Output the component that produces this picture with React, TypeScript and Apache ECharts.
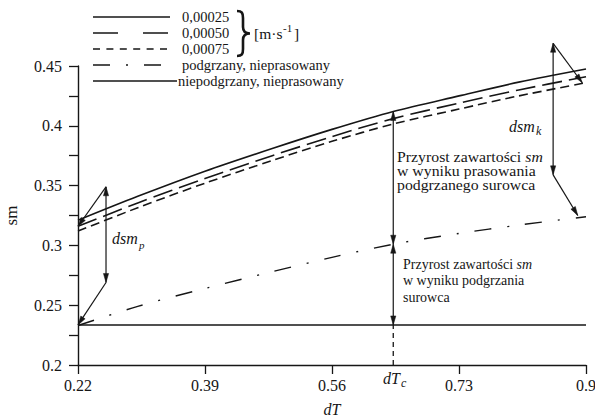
import React, { useEffect, useRef } from "react";
import * as echarts from "echarts";

const SERIF = '"Liberation Serif", "Times New Roman", Times, serif';
const INK = "#161616";

// dT values at which the curves were read
const dT = [0.22, 0.3, 0.39, 0.48, 0.56, 0.642, 0.73, 0.81, 0.9];
// sm for the three pressing speeds [m·s-1]
const sm00025 = [0.321, 0.341, 0.362, 0.381, 0.397, 0.412, 0.425, 0.4365, 0.4475];
const sm00050 = [0.316, 0.3355, 0.356, 0.375, 0.391, 0.406, 0.419, 0.43, 0.441];
const sm00075 = [0.312, 0.3315, 0.352, 0.371, 0.387, 0.4015, 0.414, 0.425, 0.436];
// podgrzany, nieprasowany
const smHeated = [0.233, 0.249, 0.264, 0.278, 0.29, 0.301, 0.31, 0.317, 0.324];
// niepodgrzany, nieprasowany
const unheatedDT = [0.22, 0.9];
const smUnheated = [0.2335, 0.2335];

// axes
const xMin = 0.22;
const xMax = 0.9;
const xStep = 0.17;
const yMin = 0.2;
const yMax = 0.45;
const yStep = 0.025;

// annotation anchors (data units)
const dTc = 0.642;
const dsmPAt = 0.2575;
const dsmPRange = [0.349, 0.269];
const dsmKAt = 0.856;
const dsmKRange = [0.469, 0.359];
const dsmKTopTarget = [0.895, 0.436];
const dsmKBottomTarget = [0.889, 0.325];

const legendLabels = [
  "0,00025",
  "0,00050",
  "0,00075",
  "podgrzany, nieprasowany",
  "niepodgrzany, nieprasowany",
];

// annotation segments: x1, y1, x2, y2, arrow at start, arrow at end, dashed
const segments: number[][] = [
  [dsmPAt, dsmPRange[0], dsmPAt, dsmPRange[1], 1, 1, 0],
  [dsmPAt, dsmPRange[0], dT[0], sm00050[0], 0, 1, 0],
  [dsmPAt, dsmPRange[1], dT[0], smUnheated[0], 0, 1, 0],
  [dTc, sm00025[5], dTc, smHeated[5], 1, 1, 0],
  [dTc, smHeated[5], dTc, smUnheated[0], 1, 1, 0],
  [dTc, yMin, dTc, smUnheated[0], 0, 0, 1],
  [dsmKAt, dsmKRange[0], dsmKAt, dsmKRange[1], 1, 1, 0],
  [dsmKAt, dsmKRange[0], dsmKTopTarget[0], dsmKTopTarget[1], 0, 1, 0],
  [dsmKAt, dsmKRange[1], dsmKBottomTarget[0], dsmKBottomTarget[1], 0, 1, 0],
];

const pair = (xs: number[], ys: number[]) => xs.map((x, i) => [x, ys[i]]);

echarts.graphic.registerShape(
  "brace",
  echarts.graphic.extendPath(
    "M0,1 C5,1 6,3 6,8 L6,17 C6,21 8,23.5 13,23.5 C8,23.5 6,26 6,30 L6,39 C6,44 5,46 0,46",
    {}
  )
);

function arrowHead(tip: number[], from: number[]) {
  const dx = tip[0] - from[0];
  const dy = tip[1] - from[1];
  const len = Math.sqrt(dx * dx + dy * dy) || 1;
  const ux = dx / len;
  const uy = dy / len;
  const L = 9;
  const W = 2.6;
  const bx = tip[0] - ux * L;
  const by = tip[1] - uy * L;
  return {
    type: "polygon",
    shape: {
      points: [
        [tip[0], tip[1]],
        [bx - uy * W, by + ux * W],
        [bx + uy * W, by - ux * W],
      ],
    },
    style: { fill: INK, stroke: INK, lineWidth: 0.5 },
  };
}

function buildOption(): any {
  const curve = (data: number[][], type: any, width = 1.6) => ({
    type: "line",
    data,
    smooth: 0.3,
    showSymbol: false,
    symbol: "none",
    silent: true,
    lineStyle: { color: INK, width, type },
  });

  const legendRows = [
    { y: 17, dash: null, x2: 170, tx: 182 },
    { y: 33, dash: [25, 25], x2: 170, tx: 182 },
    { y: 49, dash: [7, 6.4], x2: 170, tx: 182 },
    { y: 65, dash: [17, 16, 2, 16], x2: 163, tx: 182 },
    { y: 81, dash: null, x2: 177, tx: 178 },
  ];

  const txt = (x: number, y: number, text: string, size: number, extra: any = {}) => ({
    type: "text",
    x,
    y,
    silent: true,
    style: {
      text,
      fontSize: size,
      fontFamily: SERIF,
      fill: INK,
      textVerticalAlign: "middle",
      ...extra,
    },
  });

  const graphic: any[] = [];
  legendRows.forEach((r, i) => {
    graphic.push({
      type: "line",
      silent: true,
      shape: { x1: 93, y1: r.y, x2: r.x2, y2: r.y },
      style: { stroke: INK, lineWidth: 1.6, lineDash: r.dash || undefined },
    });
    graphic.push(txt(r.tx, r.y, legendLabels[i], 14.5, { lineHeight: 14 }));
  });
  graphic.push({
    type: "brace",
    x: 237,
    y: 10,
    silent: true,
    style: { stroke: INK, lineWidth: 2.6, fill: "none" },
  });
  graphic.push(txt(254, 33, "[m·s", 15.5));
  graphic.push(txt(283, 28, "-1", 11));
  graphic.push(txt(294, 33, "]", 15.5));

  // dsm labels
  graphic.push(txt(112, 238, "dsm", 16, { fontStyle: "italic" }));
  graphic.push(txt(139, 245, "p", 11, { fontStyle: "italic" }));
  graphic.push(txt(509, 126, "dsm", 16, { fontStyle: "italic" }));
  graphic.push(txt(536, 131, "k", 12, { fontStyle: "italic" }));
  graphic.push(txt(383, 378, "dT", 16, { fontStyle: "italic" }));
  graphic.push(txt(401, 383, "c", 12, { fontStyle: "italic" }));

  // text blocks
  graphic.push({
    type: "text",
    x: 397,
    y: 150,
    scaleX: 1.13,
    silent: true,
    style: {
      text: "Przyrost zawartości {i|sm}\nw wyniku prasowania\npodgrzanego surowca",
      fontSize: 14,
      fontFamily: SERIF,
      fill: INK,
      lineHeight: 14,
      textVerticalAlign: "top",
      rich: {
        i: { fontStyle: "italic", fontSize: 14, fontFamily: SERIF, fill: INK, lineHeight: 14 },
      },
    },
  });
  graphic.push({
    type: "text",
    x: 403,
    y: 256,
    silent: true,
    style: {
      text: "Przyrost zawartości {i|sm}\nw wyniku podgrzania\nsurowca",
      fontSize: 14,
      fontFamily: SERIF,
      fill: INK,
      lineHeight: 16.5,
      textVerticalAlign: "top",
      rich: {
        i: { fontStyle: "italic", fontSize: 14, fontFamily: SERIF, fill: INK, lineHeight: 16.5 },
      },
    },
  });

  const axisLine = { show: true, lineStyle: { color: INK, width: 1.4 } };
  const axisTick = { show: true, inside: false, length: 9, lineStyle: { color: INK, width: 1.3 } };

  return {
    animation: false,
    backgroundColor: "#ffffff",
    grid: { left: 78, right: 9, top: 66, bottom: 54, outerBoundsMode: "none" },
    xAxis: {
      type: "value",
      min: xMin,
      max: xMax,
      interval: xStep,
      name: "dT",
      nameLocation: "middle",
      nameGap: 36,
      nameTextStyle: { fontFamily: SERIF, fontSize: 16, fontStyle: "italic", color: INK },
      axisLine,
      axisTick,
      splitLine: { show: false },
      axisLabel: {
        margin: 12,
        fontFamily: SERIF,
        fontSize: 16,
        color: INK,
        showMinLabel: true,
        showMaxLabel: true,
        formatter: (v: number) => String(+v.toFixed(2)),
      },
    },
    yAxis: {
      type: "value",
      min: yMin,
      max: yMax,
      interval: yStep,
      name: "sm",
      nameLocation: "middle",
      nameGap: 58,
      nameTextStyle: { fontFamily: SERIF, fontSize: 17, color: INK },
      axisLine,
      axisTick,
      splitLine: { show: false },
      axisLabel: {
        margin: 16,
        fontFamily: SERIF,
        fontSize: 16,
        color: INK,
        formatter: (v: number) => {
          const k = v * 20;
          return Math.abs(k - Math.round(k)) < 1e-6 ? String(+v.toFixed(2)) : "";
        },
      },
    },
    series: [
      curve(pair(dT, sm00025), "solid"),
      curve(pair(dT, sm00050), [20, 7]),
      curve(pair(dT, sm00075), [9, 5]),
      curve(pair(dT, smHeated), [17, 16, 2, 16], 1.4),
      {
        type: "line",
        data: pair(unheatedDT, smUnheated),
        showSymbol: false,
        symbol: "none",
        silent: true,
        lineStyle: { color: INK, width: 1.6 },
      },
      {
        type: "custom",
        silent: true,
        clip: false,
        data: segments,
        renderItem: (params: any, api: any) => {
          const p1 = api.coord([api.value(0), api.value(1)]);
          const p2 = api.coord([api.value(2), api.value(3)]);
          const dashed = api.value(6) === 1;
          const children: any[] = [
            {
              type: "line",
              shape: { x1: p1[0], y1: p1[1], x2: p2[0], y2: p2[1] },
              style: {
                stroke: INK,
                lineWidth: dashed ? 1.3 : 1.2,
                lineDash: dashed ? [5, 4] : null,
                fill: "none",
              },
            },
          ];
          if (api.value(4) === 1) children.push(arrowHead(p1, p2));
          if (api.value(5) === 1) children.push(arrowHead(p2, p1));
          return { type: "group", children };
        },
      },
    ],
    graphic,
  };
}

export default function App() {
  const ref = useRef<HTMLDivElement>(null);
  useEffect(() => {
    if (!ref.current) return;
    const chart = echarts.init(ref.current, undefined, { renderer: "svg" });
    chart.setOption(buildOption());
    return () => chart.dispose();
  }, []);
  return (
    <div
      ref={ref}
      style={{ position: "absolute", left: 0, top: 0, width: 595, height: 419, background: "#fff" }}
    />
  );
}
